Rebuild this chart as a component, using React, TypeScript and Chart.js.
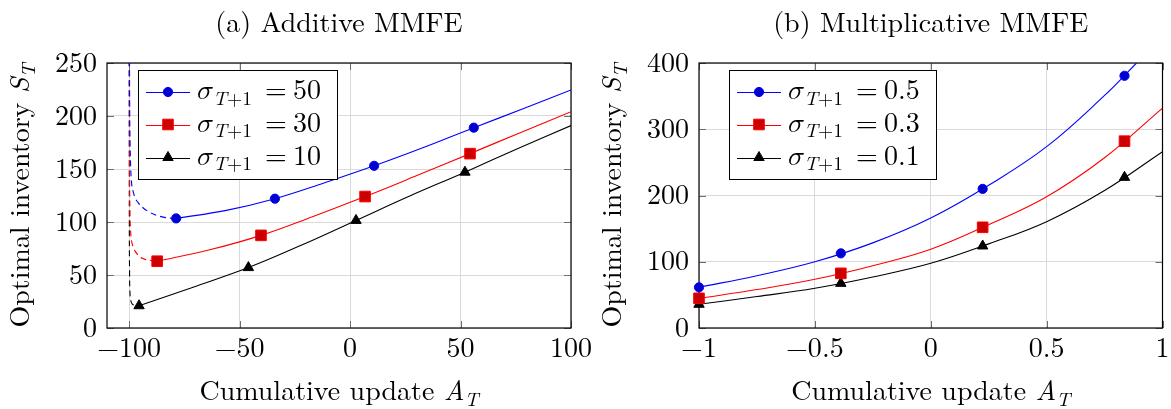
import React, { useEffect, useRef } from "react";
import { Chart, registerables } from "chart.js";

Chart.register(...registerables);

// ---------------- Panel (a): Additive MMFE ----------------
const aXTicks = [-100, -50, 0, 50, 100];
const aYTicks = [0, 50, 100, 150, 200, 250];
const aLegendValues = ["50", "30", "10"];

const aBlueDashX = [-99.85, -99.7, -99.4, -99, -98.3, -97.3, -96, -94, -91, -87.5, -84, -81, -78.7];
const aBlueDashY = [262, 200, 160, 140, 130, 123, 118.5, 114, 109.5, 106.3, 104.4, 103.6, 103.4];
const aBlueX = [-78.7, -56, -34, -11.5, 10.9, 33.5, 56, 78, 100];
const aBlueY = [103.4, 111, 122, 137, 153, 170.5, 189, 206.5, 224.6];
const aBlueMarkX = [-78.7, -34, 10.9, 56];
const aBlueMarkY = [103.4, 122, 153, 189];

const aRedDashX = [-99.9, -99.8, -99.6, -99.4, -99, -98.3, -97.3, -95.8, -93.8, -91, -87.3];
const aRedDashY = [262, 160, 110, 95, 84, 77, 72.5, 68.5, 65.5, 64, 63];
const aRedX = [-87.3, -64, -40.3, -17, 6.8, 30.5, 54.3, 77, 100];
const aRedY = [63, 73.5, 87.4, 105, 124, 144, 164.5, 184.3, 204];
const aRedMarkX = [-87.3, -40.3, 6.8, 54.3];
const aRedMarkY = [63, 87.4, 124, 164.5];

const aBlackDashX = [-99.96, -99.9, -99.8, -99.6, -99.2, -98.5, -97.5, -95.5];
const aBlackDashY = [262, 110, 55, 33, 25.5, 22.5, 21.5, 21];
const aBlackX = [-95.5, -71, -46, -21.6, 2.7, 27, 52, 76, 100];
const aBlackY = [21, 38.5, 57, 78.5, 101.5, 124.5, 147, 169.3, 191];
const aBlackMarkX = [-95.5, -46, 2.7, 52];
const aBlackMarkY = [21, 57, 101.5, 147];

// ---------------- Panel (b): Multiplicative MMFE ----------------
const bXTicks = [-1, -0.5, 0, 0.5, 1];
const bYTicks = [0, 100, 200, 300, 400];
const bLegendValues = ["0.5", "0.3", "0.1"];

const bBlueX = [-1, -0.75, -0.5, -0.25, 0, 0.25, 0.5, 0.75, 0.888];
const bBlueY = [61.4, 79, 100, 128.5, 166, 215.5, 273.7, 351, 400];
const bRedX = [-1, -0.75, -0.5, -0.25, 0, 0.25, 0.5, 0.75, 1];
const bRedY = [44.8, 58, 73.5, 94, 118.8, 156, 198.2, 257, 332];
const bBlackX = [-1, -0.75, -0.5, -0.25, 0, 0.25, 0.5, 0.75, 1];
const bBlackY = [35.8, 47.5, 60, 77, 97.6, 127, 160.5, 207.5, 266];
const bMarkX = [-1, -0.388, 0.224, 0.836];
const bBlueMarkY = [61.4, 112.7, 210, 380.7];
const bRedMarkY = [44.8, 82.5, 152, 282];
const bBlackMarkY = [35.8, 67.4, 123.8, 227.4];

// ---------------- styles ----------------
const FAMILY = '"Latin Modern Roman", "Liberation Serif", serif';
const SIZE = 28;
const H = 409;

type PStyle = "circle" | "rect" | "triangle";
type Series = { line: string; fill: string; style: PStyle; radius: number };
const BLUE: Series = { line: "#0000ff", fill: "#0000cc", style: "circle", radius: 4.6 };
const RED: Series = { line: "#ff0000", fill: "#cc0000", style: "rect", radius: 7.5 };
const BLACK: Series = { line: "#000000", fill: "#000000", style: "triangle", radius: 6 };

type LineSpec = { xs: number[]; ys: number[]; s: Series; dashed?: boolean };
type MarkSpec = { xs: number[]; ys: number[]; s: Series };
type Panel = {
  canvasLeft: number;
  canvasWidth: number;
  plotLeft: number;
  plotRight: number;
  plotTop: number;
  plotBottom: number;
  xMin: number;
  xMax: number;
  yMin: number;
  yMax: number;
  xTicks: number[];
  yTicks: number[];
  title: string;
  legendBox: { x: number; y: number; w: number; h: number };
  legendValues: string[];
  lines: LineSpec[];
  marks: MarkSpec[];
};

const panelA: Panel = {
  canvasLeft: 0,
  canvasWidth: 600,
  plotLeft: 107,
  plotRight: 571,
  plotTop: 63,
  plotBottom: 328,
  xMin: -110,
  xMax: 100,
  yMin: 0,
  yMax: 250,
  xTicks: aXTicks,
  yTicks: aYTicks,
  title: "(a) Additive MMFE",
  legendBox: { x: 138, y: 70, w: 199, h: 109 },
  legendValues: aLegendValues,
  lines: [
    { xs: aBlueDashX, ys: aBlueDashY, s: BLUE, dashed: true },
    { xs: aBlueX, ys: aBlueY, s: BLUE },
    { xs: aRedDashX, ys: aRedDashY, s: RED, dashed: true },
    { xs: aRedX, ys: aRedY, s: RED },
    { xs: aBlackDashX, ys: aBlackDashY, s: BLACK, dashed: true },
    { xs: aBlackX, ys: aBlackY, s: BLACK },
  ],
  marks: [
    { xs: aBlueMarkX, ys: aBlueMarkY, s: BLUE },
    { xs: aRedMarkX, ys: aRedMarkY, s: RED },
    { xs: aBlackMarkX, ys: aBlackMarkY, s: BLACK },
  ],
};

const panelB: Panel = {
  canvasLeft: 586,
  canvasWidth: 585,
  plotLeft: 113,
  plotRight: 577,
  plotTop: 63,
  plotBottom: 328,
  xMin: -1,
  xMax: 1,
  yMin: 0,
  yMax: 400,
  xTicks: bXTicks,
  yTicks: bYTicks,
  title: "(b) Multiplicative MMFE",
  legendBox: { x: 143, y: 70, w: 207, h: 109 },
  legendValues: bLegendValues,
  lines: [
    { xs: bBlueX, ys: bBlueY, s: BLUE },
    { xs: bRedX, ys: bRedY, s: RED },
    { xs: bBlackX, ys: bBlackY, s: BLACK },
  ],
  marks: [
    { xs: bMarkX, ys: bBlueMarkY, s: BLUE },
    { xs: bMarkX, ys: bRedMarkY, s: RED },
    { xs: bMarkX, ys: bBlackMarkY, s: BLACK },
  ],
};

// ---------------- helpers ----------------
const xy = (xs: number[], ys: number[]) => xs.map((x, i) => ({ x, y: ys[i] }));
const fmt = (v: number) => String(v).replace("-", "\u2212");

function hasFont(ctx: CanvasRenderingContext2D, fam: string) {
  const probe = "mmmmmmmmmmlli10OQ";
  ctx.font = "40px monospace";
  const a = ctx.measureText(probe).width;
  ctx.font = `40px "${fam}", monospace`;
  const b = ctx.measureText(probe).width;
  return Math.abs(a - b) > 0.5;
}

let SIGMA = "\u03c3";
let SIGMA_FONT = (size: number) => `italic ${size}px "DejaVu Serif", serif`;

const fontStr = (size: number, italic?: boolean) => `${italic ? "italic " : ""}${size}px ${FAMILY}`;

type Seg = { t: string; it?: boolean; sub?: boolean; f?: (size: number) => string };

function drawRich(
  ctx: CanvasRenderingContext2D,
  segs: Seg[],
  x: number,
  y: number,
  size: number,
  align: "left" | "center"
) {
  ctx.save();
  ctx.textAlign = "left";
  ctx.textBaseline = "alphabetic";
  ctx.fillStyle = "#000";
  const fs = (s: Seg) => {
    const sz = s.sub ? size * 0.7 : size;
    return s.f ? s.f(sz) : fontStr(sz, s.it);
  };
  const ws = segs.map((s) => {
    ctx.font = fs(s);
    return ctx.measureText(s.t).width;
  });
  const total = ws.reduce((a, b) => a + b, 0);
  let cx = align === "center" ? x - total / 2 : x;
  segs.forEach((s, i) => {
    ctx.font = fs(s);
    ctx.fillText(s.t, cx, y + (s.sub ? size * 0.2 : 0));
    cx += ws[i];
  });
  ctx.restore();
}

function drawMarker(ctx: CanvasRenderingContext2D, s: Series, x: number, y: number) {
  ctx.save();
  ctx.beginPath();
  const r = s.radius;
  if (s.style === "circle") {
    ctx.arc(x, y, r, 0, Math.PI * 2);
  } else if (s.style === "rect") {
    const h = Math.SQRT1_2 * r;
    ctx.rect(x - h, y - h, 2 * h, 2 * h);
  } else {
    let a = 0;
    ctx.moveTo(x + Math.sin(a) * r, y - Math.cos(a) * r);
    a += (2 * Math.PI) / 3;
    ctx.lineTo(x + Math.sin(a) * r, y - Math.cos(a) * r);
    a += (2 * Math.PI) / 3;
    ctx.lineTo(x + Math.sin(a) * r, y - Math.cos(a) * r);
    ctx.closePath();
  }
  ctx.fillStyle = s.fill;
  ctx.fill();
  ctx.strokeStyle = s.line;
  ctx.lineWidth = 1;
  ctx.stroke();
  ctx.restore();
}

function decorPlugin(p: Panel) {
  return {
    id: "decor",
    beforeDatasetsDraw(chart: any) {
      const ctx: CanvasRenderingContext2D = chart.ctx;
      const { left, right, top, bottom } = chart.chartArea;
      const xs = chart.scales.x;
      const ys = chart.scales.y;
      ctx.save();
      ctx.strokeStyle = "#6e6e6e";
      ctx.lineWidth = 1;
      const TL = 7;
      ctx.beginPath();
      p.xTicks.forEach((v) => {
        const px = Math.round(xs.getPixelForValue(v)) + 0.5;
        ctx.moveTo(px, bottom);
        ctx.lineTo(px, bottom - TL);
        ctx.moveTo(px, top);
        ctx.lineTo(px, top + TL);
      });
      p.yTicks.forEach((v) => {
        const py = Math.round(ys.getPixelForValue(v)) + 0.5;
        ctx.moveTo(left, py);
        ctx.lineTo(left + TL, py);
        ctx.moveTo(right, py);
        ctx.lineTo(right - TL, py);
      });
      ctx.stroke();
      ctx.strokeStyle = "#000";
      ctx.lineWidth = 1.2;
      ctx.strokeRect(left, top, right - left, bottom - top);
      ctx.restore();
    },
    afterDraw(chart: any) {
      const ctx: CanvasRenderingContext2D = chart.ctx;
      const { left, right, top, bottom } = chart.chartArea;
      const cx = (left + right) / 2;
      const cy = (top + bottom) / 2;
      drawRich(ctx, [{ t: p.title }], cx, 32, SIZE, "center");
      drawRich(
        ctx,
        [{ t: "Cumulative update " }, { t: "A", it: true }, { t: "T", it: true, sub: true }],
        cx,
        400,
        SIZE,
        "center"
      );
      ctx.save();
      ctx.translate(left - 78, cy);
      ctx.rotate(-Math.PI / 2);
      drawRich(
        ctx,
        [{ t: "Optimal inventory " }, { t: "S", it: true }, { t: "T", it: true, sub: true }],
        0,
        0,
        SIZE,
        "center"
      );
      ctx.restore();
      // legend
      const b = p.legendBox;
      ctx.save();
      ctx.fillStyle = "#fff";
      ctx.fillRect(b.x, b.y, b.w, b.h);
      ctx.strokeStyle = "#000";
      ctx.lineWidth = 1;
      ctx.strokeRect(b.x + 0.5, b.y + 0.5, b.w, b.h);
      ctx.restore();
      const rowY = [22, 54.5, 87.5];
      p.marks.forEach((m, i) => {
        const y = b.y + rowY[i];
        ctx.save();
        ctx.strokeStyle = m.s.line;
        ctx.lineWidth = 1;
        ctx.beginPath();
        ctx.moveTo(b.x + 8, Math.round(y) + 0.5);
        ctx.lineTo(b.x + 52, Math.round(y) + 0.5);
        ctx.stroke();
        ctx.restore();
        drawMarker(ctx, m.s, b.x + 30, y);
        const tx = b.x + 59;
        const by = y + 7;
        drawRich(ctx, [{ t: SIGMA, f: SIGMA_FONT }], tx, by, SIZE, "left");
        drawRich(ctx, [{ t: "T", it: true, sub: true }, { t: "+1", sub: true }], tx + 16, by, SIZE, "left");
        drawRich(ctx, [{ t: "=" }], tx + 68, by, SIZE, "left");
        drawRich(ctx, [{ t: p.legendValues[i] }], tx + 96, by, SIZE, "left");
      });
    },
  };
}

function makeConfig(p: Panel): any {
  const datasets: any[] = [];
  p.marks.forEach((m) =>
    datasets.push({
      data: xy(m.xs, m.ys),
      showLine: false,
      pointStyle: m.s.style,
      pointRadius: m.s.radius,
      pointHoverRadius: m.s.radius,
      pointBackgroundColor: m.s.fill,
      pointBorderColor: m.s.line,
      pointBorderWidth: 1,
      clip: false,
    })
  );
  p.lines.forEach((l) =>
    datasets.push({
      data: xy(l.xs, l.ys),
      showLine: true,
      borderColor: l.s.line,
      borderWidth: 1.1,
      pointRadius: 0,
      pointHoverRadius: 0,
      borderDash: l.dashed ? [6, 4] : [],
      cubicInterpolationMode: l.dashed ? "monotone" : "default",
      tension: l.dashed ? 0 : 0.4,
      fill: false,
    })
  );
  const tickFont = { family: FAMILY, size: SIZE };
  return {
    type: "scatter",
    data: { datasets },
    options: {
      responsive: false,
      animation: false,
      events: [],
      layout: {
        padding: { left: 0, right: p.canvasWidth - p.plotRight, top: p.plotTop, bottom: 0 },
      },
      plugins: {
        legend: { display: false },
        tooltip: { enabled: false },
        title: { display: false },
      },
      scales: {
        x: {
          type: "linear",
          min: p.xMin,
          max: p.xMax,
          afterBuildTicks: (s: any) => {
            s.ticks = p.xTicks.map((v) => ({ value: v }));
          },
          afterFit: (s: any) => {
            s.height = H - p.plotBottom;
            s.paddingLeft = 0;
            s.paddingRight = 0;
          },
          grid: { color: "#dadada", lineWidth: 1, drawTicks: false },
          border: { display: false },
          ticks: {
            font: tickFont,
            color: "#000",
            padding: 4,
            maxRotation: 0,
            autoSkip: false,
            callback: (v: any) => fmt(Number(v)),
          },
        },
        y: {
          type: "linear",
          min: p.yMin,
          max: p.yMax,
          afterBuildTicks: (s: any) => {
            s.ticks = p.yTicks.map((v) => ({ value: v }));
          },
          afterFit: (s: any) => {
            s.width = p.plotLeft;
            s.paddingTop = 0;
            s.paddingBottom = 0;
          },
          grid: { color: "#dadada", lineWidth: 1, drawTicks: false },
          border: { display: false },
          ticks: {
            font: tickFont,
            color: "#000",
            padding: 10,
            autoSkip: false,
            callback: (v: any) => fmt(Number(v)),
          },
        },
      },
    },
    plugins: [decorPlugin(p)],
  };
}

function PanelChart({ panel }: { panel: Panel }) {
  const ref = useRef<HTMLCanvasElement>(null);
  useEffect(() => {
    const canvas = ref.current as HTMLCanvasElement;
    const c2 = canvas.getContext("2d");
    if (c2 && hasFont(c2, "Latin Modern Math")) {
      SIGMA = "\u{1D70E}";
      SIGMA_FONT = (size: number) => `${size}px "Latin Modern Math", "DejaVu Serif", serif`;
    }
    const chart = new Chart(canvas, makeConfig(panel));
    return () => chart.destroy();
  }, [panel]);
  return (
    <canvas
      ref={ref}
      width={panel.canvasWidth}
      height={H}
      style={{ position: "absolute", left: panel.canvasLeft, top: 0, width: panel.canvasWidth, height: H }}
    />
  );
}

export default function App() {
  return (
    <div
      style={{
        position: "fixed",
        left: 0,
        top: 0,
        width: 1171,
        height: H,
        background: "#fff",
        overflow: "hidden",
      }}
    >
      <PanelChart panel={panelA} />
      <PanelChart panel={panelB} />
    </div>
  );
}
